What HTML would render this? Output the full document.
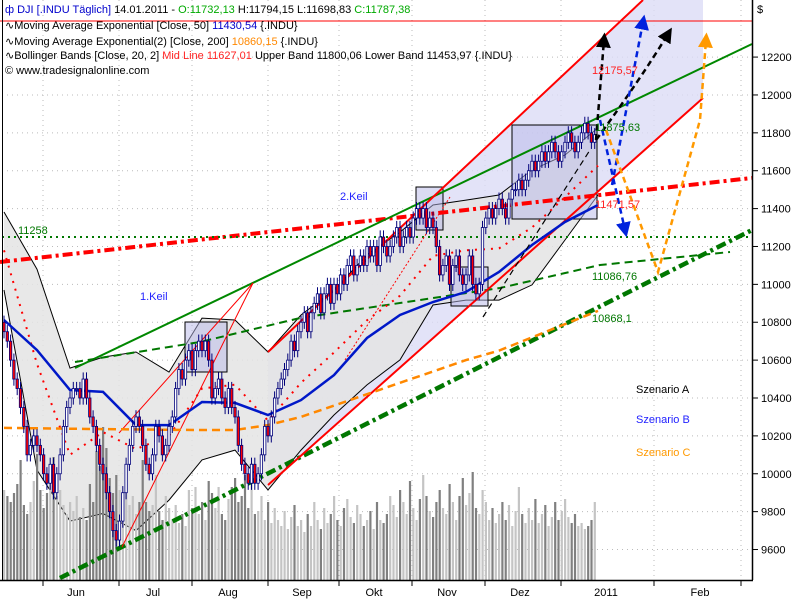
<!DOCTYPE html>
<html><head><meta charset="utf-8"><style>
body{margin:0;background:#fff;font-family:"Liberation Sans",sans-serif}
svg text{font-family:"Liberation Sans",sans-serif}
</style></head><body>
<svg id="chart" width="800" height="600" viewBox="0 0 800 600" xmlns="http://www.w3.org/2000/svg">
<defs>
<marker id="ah-k" markerWidth="6" markerHeight="6" refX="3" refY="3" orient="auto"><path d="M0,0 L6,3 L0,6 z" fill="#000"/></marker>
<marker id="ah-b" markerWidth="6" markerHeight="6" refX="3" refY="3" orient="auto"><path d="M0,0 L6,3 L0,6 z" fill="#0022dd"/></marker>
<marker id="ah-o" markerWidth="6" markerHeight="6" refX="3" refY="3" orient="auto"><path d="M0,0 L6,3 L0,6 z" fill="#f90"/></marker>
</defs>
<rect x="0" y="0" width="800" height="600" fill="#fff"/>
<g id="grid"></g>
<g id="channel">
<polygon points="268,352 643,0 703,0 703,98 268,485" fill="#dcdcf6" opacity="0.8"/>
</g>
<g id="bb"></g>
<g id="vol"></g>
<g id="boxes">
<rect x="185" y="322" width="42" height="50" fill="#b8b8e8" fill-opacity="0.5" stroke="#000"/>
<rect x="416" y="187" width="27" height="43" fill="#b8b8e8" fill-opacity="0.5" stroke="#000"/>
<rect x="451" y="267" width="37" height="39" fill="#b8b8e8" fill-opacity="0.5" stroke="#000"/>
<rect x="512" y="125" width="85" height="94" fill="#b8b8e8" fill-opacity="0.5" stroke="#000"/>
</g>
<g id="lines">
<line x1="0" y1="262" x2="752" y2="178" stroke="#f00" stroke-width="4" stroke-dasharray="10,4,3,4"/>
<line x1="2" y1="237" x2="752" y2="237" stroke="#070" stroke-width="2" stroke-dasharray="2,4"/>
<line x1="75" y1="368" x2="752" y2="44" stroke="#080" stroke-width="2"/>
<polyline points="75,362 200,342 300,318 420,300 500,288 600,265 730,252" fill="none" stroke="#070" stroke-width="2" stroke-dasharray="8,5"/>
<line x1="60" y1="578" x2="752" y2="230" stroke="#070" stroke-width="4.5" stroke-dasharray="10,4,3,4"/>
<line x1="268" y1="352" x2="643" y2="0" stroke="#f00" stroke-width="2"/>
<line x1="268" y1="485" x2="703" y2="98" stroke="#f00" stroke-width="2"/>
<line x1="119" y1="433" x2="253" y2="283" stroke="#f00" stroke-width="1"/>
<line x1="122" y1="547" x2="253" y2="283" stroke="#f00" stroke-width="1"/>
<line x1="345" y1="360" x2="450" y2="197" stroke="#f00" stroke-width="1" stroke-dasharray="2,2"/>
<line x1="0" y1="21" x2="752" y2="21" stroke="#f00" stroke-width="1"/>
</g>
<g id="ma"></g>
<g id="candles"></g>
<g id="scen" fill="none" stroke-width="2.5" stroke-dasharray="6,4">
<path d="M596,140 Q600,90 604,40" stroke="#000" marker-end="url(#ah-k)"/>
<path d="M596,140 Q640,80 668,34" stroke="#000" marker-end="url(#ah-k)"/>
<path d="M600,120 L625,230" stroke="#0022dd" marker-end="url(#ah-b)"/>
<path d="M612,185 Q630,90 643,22" stroke="#0022dd" marker-end="url(#ah-b)"/>
<path d="M606,130 L658,272 L700,120 L706,40" stroke="#f90" marker-end="url(#ah-o)"/>
<line x1="483" y1="317" x2="590" y2="150" stroke="#000" stroke-width="1.2"/>
</g>
<g id="labels" font-size="11">
<text x="18" y="234" fill="#070">11258</text>
<text x="140" y="300" fill="#22f">1.Keil</text>
<text x="340" y="200" fill="#22f">2.Keil</text>
<text x="592" y="74" fill="#f22">12175,57</text>
<text x="595" y="131" fill="#070">11875,63</text>
<text x="595" y="208" fill="#f22">11471,57</text>
<text x="592" y="280" fill="#070">11086,76</text>
<text x="592" y="322" fill="#070">10868,1</text>
<text x="636" y="393" fill="#000">Szenario A</text>
<text x="636" y="423" fill="#22f">Szenario B</text>
<text x="636" y="456" fill="#f90">Szenario C</text>
</g>
<g id="axes"></g>
<g id="header" font-size="11">
<text x="5" y="13" fill="#000"><tspan fill="#00c">ф DJI [.INDU  Täglich]</tspan> 14.01.2011 - <tspan fill="#0a0">O:11732,13</tspan> H:11794,15 L:11698,83 <tspan fill="#0a0">C:11787,38</tspan></text>
<text x="5" y="29">∿Moving Average Exponential [Close, 50] <tspan fill="#00c">11430,54</tspan> {.INDU}</text>
<text x="5" y="45">∿Moving Average Exponential(2) [Close, 200] <tspan fill="#f80">10860,15</tspan> {.INDU}</text>
<text x="5" y="59">∿Bollinger Bands [Close, 20, 2] <tspan fill="#f22">Mid Line 11627,01</tspan> Upper Band 11800,06 Lower Band 11453,97 {.INDU}</text>
<text x="5" y="74">© www.tradesignalonline.com</text>
</g>
</svg>
<script>
const closes=[10750,10700,10600,10500,10450,10350,10250,10100,10150,10200,
10150,10100,10000,9950,10050,9900,10000,10100,10250,10350,
10400,10450,10450,10400,10500,10400,10300,10250,10150,10050,
10000,9900,9800,9700,9650,9750,9900,10050,10150,10250,
10300,10250,10150,10050,10000,10100,10250,10200,10100,10150,
10250,10300,10450,10550,10500,10600,10650,10550,10650,10700,
10650,10700,10600,10400,10450,10500,10400,10350,10450,10350,
10300,10150,10050,10000,9950,10050,9950,10000,10100,10250,
10200,10300,10400,10450,10500,10550,10600,10700,10650,10750,
10800,10850,10750,10850,10900,10950,10850,10950,11000,10900,
11000,10950,11050,11000,11100,11150,11050,11100,11150,11100,
11200,11150,11200,11100,11250,11200,11150,11200,11250,11300,
11200,11250,11300,11250,11350,11400,11350,11400,11300,11350,
11300,11200,11050,11100,11150,11000,11100,11150,11050,11000,
11050,11150,11000,10950,11000,11300,11350,11400,11350,11400,
11450,11400,11350,11450,11500,11500,11550,11500,11550,11600,
11650,11600,11650,11700,11650,11700,11750,11700,11650,11700,
11750,11800,11750,11700,11750,11800,11850,11800,11750,11790];
const volumes=[3.0,2.8,2.6,2.9,3.2,4.0,2.5,2.2,2.6,3.3,
4.2,3.0,2.4,2.9,3.6,4.1,2.8,3.0,2.5,2.2,
2.6,2.3,2.8,2.1,2.4,2.0,3.2,2.6,4.3,3.8,
5.1,4.4,3.4,2.9,3.5,3.0,2.6,3.2,2.5,2.8,
2.2,2.6,4.0,2.6,2.3,2.5,3.5,2.3,2.0,2.8,
2.4,2.0,2.5,1.9,2.2,1.8,3.0,2.4,3.1,2.2,
2.6,2.0,3.3,2.9,2.4,3.1,2.2,2.0,2.7,3.1,
3.4,2.6,2.8,3.5,2.4,3.9,2.2,2.3,2.8,2.0,
2.6,1.9,2.4,2.0,1.8,2.3,1.7,2.1,2.5,1.8,
2.0,1.6,2.2,1.8,2.6,2.0,1.7,2.4,1.9,2.2,
2.8,2.0,1.8,2.4,2.7,2.1,1.9,2.5,2.2,1.8,
2.0,2.3,1.7,2.6,2.0,1.9,2.2,2.8,2.5,2.1,
3.0,2.6,2.2,3.3,2.4,2.0,2.7,3.5,2.8,2.3,
2.1,2.6,3.0,2.4,2.2,3.2,2.6,2.0,2.8,3.4,
2.5,2.9,3.6,2.4,2.2,3.0,2.6,2.0,2.4,1.9,
2.2,2.6,2.0,2.5,1.8,2.3,3.1,2.2,1.9,2.4,
2.0,2.7,1.9,2.2,2.5,1.8,2.1,2.6,2.0,2.3,
2.7,2.1,1.9,2.2,1.8,1.9,1.7,1.8,2.0,2.6];
const sampleIdx=[0,10,20,30,40,50,60,70,80,90,100,110,120,130,140,150,160,170,180];
const ma50=[10812,10653,10442,10432,10257,10257,10379,10374,10310,10389,10521,10717,10838,10907,10960,11065,11208,11329,11419];
const ma200=[10242,10240,10238,10236,10234,10232,10231,10231,10257,10300,10360,10420,10480,10540,10600,10650,10720,10790,10860];
const bbUpper=[11382,11080,10558,10616,10643,10537,10822,10812,10643,10838,10970,11155,11276,11419,11445,11472,11604,11683,11826];
const bbLower=[10970,10020,9750,9790,9700,9861,10073,10125,9914,10125,10310,10469,10601,10891,10917,10917,10997,11234,11472];
const bbMid=[11180,10580,10100,10220,10130,10200,10450,10470,10280,10480,10640,10810,10940,11150,11180,11190,11300,11460,11627];
const priceTicks=[9600,9800,10000,10200,10400,10600,10800,11000,11200,11400,11600,11800,12000,12200];
const monthLabels=["Jun","Jul","Aug","Sep","Okt","Nov","Dez","2011","Feb"];
const monthLabelX=[76,153,228,302,374,447,520,606,700];
const monthTickX=[43,119,192,268,339,412,485,561,654,741];

const NS="http://www.w3.org/2000/svg";
function yOf(p){return 398-(p-10400)*0.1894;}
function xOf(i){return 4+i*3.3;}
function mk(tag,attrs,parent){const e=document.createElementNS(NS,tag);for(const k in attrs)e.setAttribute(k,attrs[k]);parent.appendChild(e);return e;}
const g=id=>document.getElementById(id);

priceTicks.forEach(p=>{const l=mk('line',{x1:2,x2:752,y1:yOf(p),y2:yOf(p),stroke:'#bbb','stroke-dasharray':'1,4'},g('grid'));

});
monthTickX.forEach(x=>{const l=mk('line',{x1:x,x2:x,y1:0,y2:580,stroke:'#bbb','stroke-dasharray':'1,4'},g('grid'));

});

function pts(arr){return sampleIdx.map((s,k)=>xOf(s)+','+yOf(arr[k]).toFixed(1));}
const up=pts(bbUpper),lo=pts(bbLower);
const bbFill=mk('polygon',{points:up.join(' ')+' '+lo.slice().reverse().join(' '),fill:'#e4e4e4',opacity:'0.85'},g('bb'));


const bu=mk('polyline',{points:up.join(' '),fill:'none',stroke:'#000','stroke-width':1},g('bb'));


const bl=mk('polyline',{points:lo.join(' '),fill:'none',stroke:'#000','stroke-width':1},g('bb'));



volumes.forEach((v,i)=>{const h=v*30;const dn=i>0&&closes[i]<closes[i-1];
const r=mk('rect',{x:xOf(i)-1,y:580-h,width:2.2,height:h,fill:dn?'#808080':'#c4c4c4'},g('vol'));

});

const mid=mk('polyline',{points:pts(bbMid).join(' '),fill:'none',stroke:'#f00','stroke-width':2,'stroke-dasharray':'2,6'},g('ma'));


const m2=mk('polyline',{points:pts(ma200).join(' '),fill:'none',stroke:'#f80','stroke-width':2.5,'stroke-dasharray':'8,5'},g('ma'));


const m1=mk('polyline',{points:pts(ma50).join(' '),fill:'none',stroke:'#0018c8','stroke-width':2.5},g('ma'));



closes.forEach((c,i)=>{const o=i>0?closes[i-1]:c+50;const x=xOf(i);
const hi=Math.max(o,c)+35,lo2=Math.min(o,c)-35;
const w=mk('line',{x1:x,x2:x,y1:yOf(hi),y2:yOf(lo2),stroke:'#00007a','stroke-width':1},g('candles'));


const t=Math.min(yOf(o),yOf(c)),h=Math.max(1,Math.abs(yOf(o)-yOf(c)));
const b=mk('rect',{x:x-1.2,y:t,width:2.4,height:h,fill:c<o?'#f00':'#fff',stroke:'#00007a','stroke-width':0.8},g('candles'));

});

const ax=g('axes');
const a1=mk('line',{x1:752.5,x2:752.5,y1:0,y2:580,stroke:'#000','stroke-width':1.5},ax);


const a2=mk('line',{x1:0,x2:753,y1:580.5,y2:580.5,stroke:'#000','stroke-width':1.5},ax);


const a3=mk('line',{x1:2.5,x2:2.5,y1:0,y2:580,stroke:'#000','stroke-width':1},ax);


priceTicks.forEach(p=>{const y=yOf(p);
const tk=mk('line',{x1:753,x2:758,y1:y,y2:y,stroke:'#000'},ax);


const t=mk('text',{x:761,y:y+4,'font-size':11,fill:'#000'},ax);t.textContent=p;

});
const d=mk('text',{x:757,y:13,'font-size':11,fill:'#000'},ax);d.textContent='$';


monthTickX.forEach(x=>{const tk=mk('line',{x1:x,x2:x,y1:581,y2:586,stroke:'#000'},ax);

});
monthLabels.forEach((m,k)=>{const t=mk('text',{x:monthLabelX[k],y:596,'font-size':11,fill:'#000','text-anchor':'middle'},ax);t.textContent=m;

});
</script>
</body></html>
